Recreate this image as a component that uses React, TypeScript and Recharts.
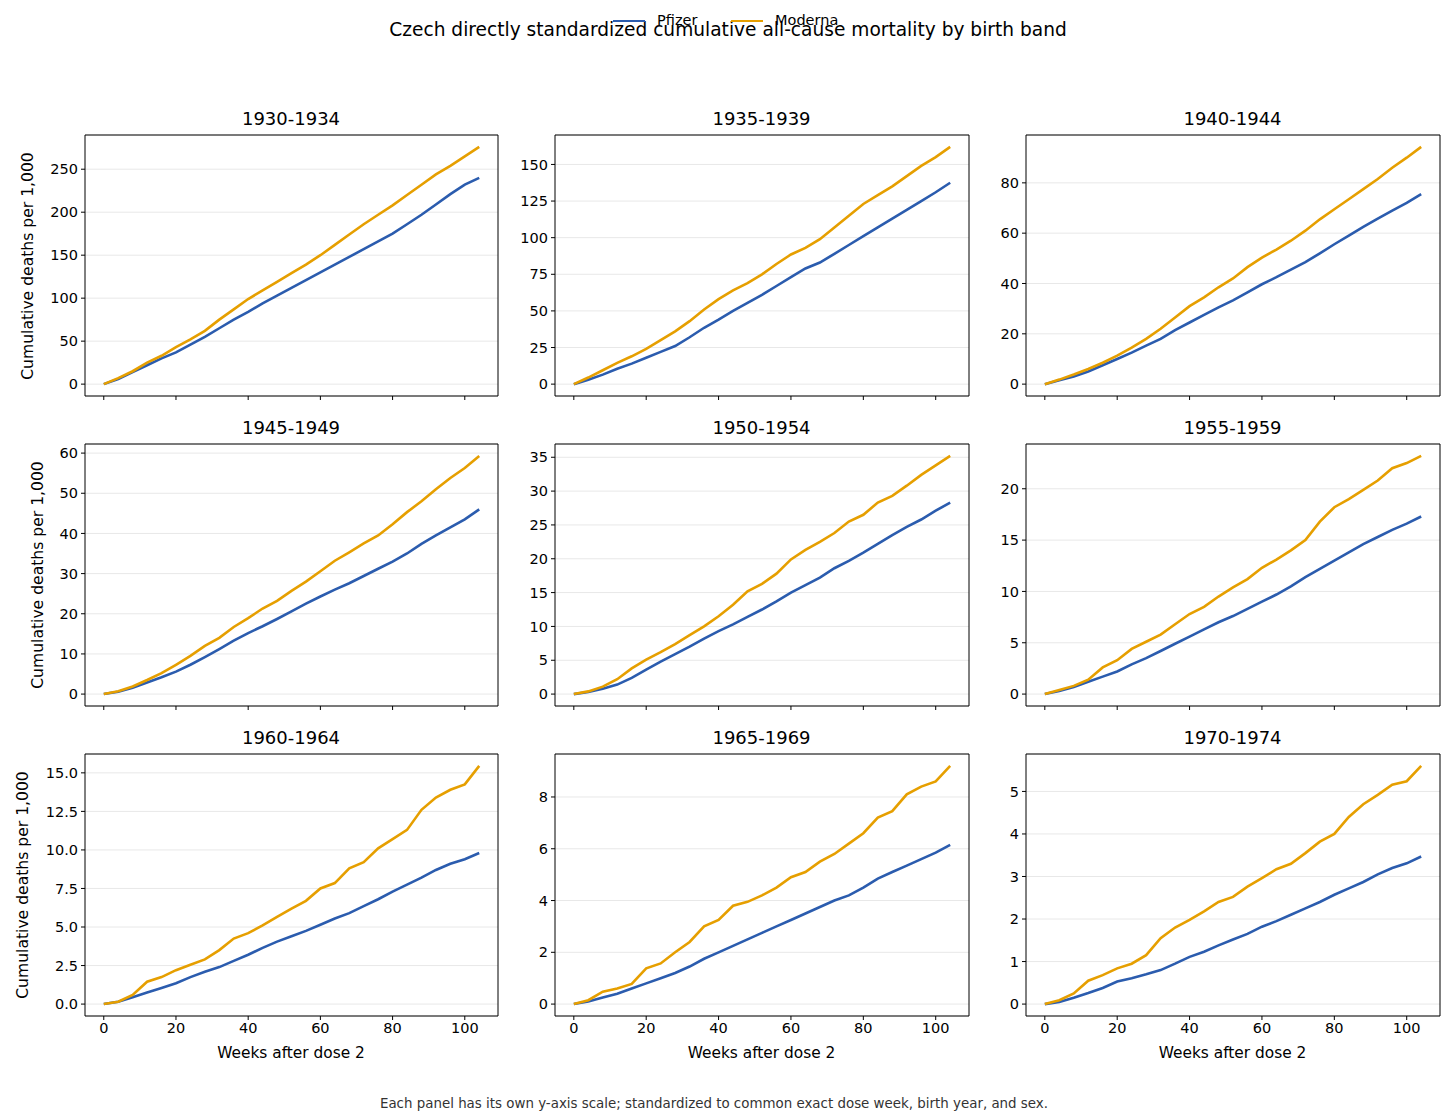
import { LineChart, Line, XAxis, YAxis, CartesianGrid, ReferenceArea } from 'recharts'

// weeks after dose 2 (read every 4 weeks)
const weeks = [0, 4, 8, 12, 16, 20, 24, 28, 32, 36, 40, 44, 48, 52, 56, 60, 64, 68, 72, 76, 80, 84, 88, 92, 96, 100, 104]
const xTicks = [0, 20, 40, 60, 80, 100]

const pfizer1930 = [0, 6, 14, 22, 30, 37, 46, 55, 65, 75, 84, 94, 103, 112, 121, 130, 139, 148, 157, 166, 175, 186, 197, 209, 221, 232, 240]
const moderna1930 = [0, 7, 15, 25, 33, 43, 52, 62, 75, 87, 99, 109, 119, 129, 139, 150, 162, 174, 186, 197, 208, 220, 232, 244, 254, 265, 276]
const pfizer1935 = [0, 3, 6.5, 10.5, 14, 18, 22, 26, 32, 38.5, 44, 50, 55.5, 61, 67, 73, 79, 83, 89, 95, 101, 107, 113, 119, 125, 131, 137.5]
const moderna1935 = [0, 4.5, 9.5, 14.5, 19, 24, 30, 36, 43, 51, 58, 64, 69, 75, 82, 88.5, 93, 99, 107, 115, 123, 129, 135, 142, 149, 155, 162]
const pfizer1940 = [0, 1.5, 3, 5, 7.5, 10, 12.5, 15.3, 18, 21.5, 24.5, 27.5, 30.5, 33.3, 36.5, 39.7, 42.5, 45.5, 48.5, 52, 55.6, 59, 62.5, 65.8, 69, 72, 75.5]
const moderna1940 = [0, 1.8, 3.8, 6, 8.5, 11.3, 14.5, 18, 22, 26.5, 31, 34.5, 38.5, 42, 46.5, 50.3, 53.5, 57, 61, 65.5, 69.5, 73.5, 77.5, 81.5, 86, 90, 94.3]
const pfizer1945 = [0, 0.6, 1.6, 2.9, 4.2, 5.6, 7.3, 9.2, 11.2, 13.3, 15.2, 16.9, 18.7, 20.6, 22.5, 24.3, 26, 27.6, 29.4, 31.2, 33, 35, 37.4, 39.5, 41.5, 43.5, 46]
const moderna1945 = [0, 0.7, 1.9, 3.5, 5.2, 7.3, 9.5, 12, 14, 16.7, 18.9, 21.3, 23.2, 25.7, 28, 30.6, 33.2, 35.3, 37.5, 39.5, 42.3, 45.3, 48, 51, 53.8, 56.3, 59.3]
const pfizer1950 = [0, 0.3, 0.8, 1.4, 2.4, 3.6, 4.8, 5.9, 7, 8.2, 9.3, 10.3, 11.4, 12.5, 13.7, 15, 16.1, 17.2, 18.6, 19.7, 20.9, 22.2, 23.5, 24.7, 25.8, 27.1, 28.3]
const moderna1950 = [0, 0.4, 1.1, 2.2, 3.8, 5.1, 6.2, 7.4, 8.7, 10, 11.5, 13.2, 15.2, 16.3, 17.8, 19.9, 21.3, 22.5, 23.8, 25.5, 26.5, 28.3, 29.3, 30.8, 32.4, 33.8, 35.2]
const pfizer1955 = [0, 0.3, 0.7, 1.2, 1.7, 2.2, 2.9, 3.5, 4.2, 4.9, 5.6, 6.3, 7, 7.6, 8.3, 9, 9.7, 10.5, 11.4, 12.2, 13, 13.8, 14.6, 15.3, 16, 16.6, 17.3]
const moderna1955 = [0, 0.4, 0.8, 1.4, 2.6, 3.3, 4.4, 5.1, 5.8, 6.8, 7.8, 8.5, 9.5, 10.4, 11.2, 12.3, 13.1, 14, 15, 16.8, 18.2, 19, 19.9, 20.8, 22, 22.5, 23.2]
const pfizer1960 = [0, 0.15, 0.45, 0.75, 1.05, 1.35, 1.75, 2.1, 2.4, 2.8, 3.2, 3.65, 4.05, 4.4, 4.75, 5.15, 5.55, 5.9, 6.35, 6.8, 7.3, 7.75, 8.2, 8.7, 9.1, 9.4, 9.8]
const moderna1960 = [0, 0.15, 0.6, 1.45, 1.75, 2.2, 2.55, 2.9, 3.5, 4.25, 4.6, 5.1, 5.65, 6.2, 6.7, 7.5, 7.85, 8.8, 9.2, 10.1, 10.7, 11.3, 12.6, 13.4, 13.9, 14.25, 15.45]
const pfizer1965 = [0, 0.1, 0.25, 0.4, 0.6, 0.8, 1.0, 1.2, 1.45, 1.75, 2.0, 2.25, 2.5, 2.75, 3.0, 3.25, 3.5, 3.75, 4.0, 4.2, 4.5, 4.85, 5.1, 5.35, 5.6, 5.85, 6.15]
const moderna1965 = [0, 0.15, 0.48, 0.6, 0.78, 1.38, 1.57, 2.0, 2.4, 3.0, 3.25, 3.8, 3.95, 4.2, 4.5, 4.9, 5.1, 5.5, 5.8, 6.2, 6.6, 7.2, 7.45, 8.1, 8.4, 8.6, 9.2]
const pfizer1970 = [0, 0.05, 0.15, 0.26, 0.38, 0.53, 0.61, 0.7, 0.8, 0.95, 1.11, 1.23, 1.38, 1.52, 1.65, 1.82, 1.95, 2.1, 2.25, 2.4, 2.57, 2.72, 2.87, 3.05, 3.2, 3.31, 3.47]
const moderna1970 = [0, 0.09, 0.25, 0.55, 0.68, 0.84, 0.95, 1.15, 1.55, 1.8, 1.98, 2.18, 2.4, 2.52, 2.76, 2.96, 3.17, 3.3, 3.55, 3.82, 4.0, 4.4, 4.7, 4.92, 5.16, 5.24, 5.6]

const ticks1930 = [0, 50, 100, 150, 200, 250]
const ticks1935 = [0, 25, 50, 75, 100, 125, 150]
const ticks1940 = [0, 20, 40, 60, 80]
const ticks1945 = [0, 10, 20, 30, 40, 50, 60]
const ticks1950 = [0, 5, 10, 15, 20, 25, 30, 35]
const ticks1955 = [0, 5, 10, 15, 20]
const ticks1960 = [0, 2.5, 5, 7.5, 10, 12.5, 15]
const ticks1965 = [0, 2, 4, 6, 8]
const ticks1970 = [0, 1, 2, 3, 4, 5]

const panels = [
  { band: '1930-1934', pfizer: pfizer1930, moderna: moderna1930, ticks: ticks1930 },
  { band: '1935-1939', pfizer: pfizer1935, moderna: moderna1935, ticks: ticks1935 },
  { band: '1940-1944', pfizer: pfizer1940, moderna: moderna1940, ticks: ticks1940 },
  { band: '1945-1949', pfizer: pfizer1945, moderna: moderna1945, ticks: ticks1945 },
  { band: '1950-1954', pfizer: pfizer1950, moderna: moderna1950, ticks: ticks1950 },
  { band: '1955-1959', pfizer: pfizer1955, moderna: moderna1955, ticks: ticks1955 },
  { band: '1960-1964', pfizer: pfizer1960, moderna: moderna1960, ticks: ticks1960, decimals: 1 },
  { band: '1965-1969', pfizer: pfizer1965, moderna: moderna1965, ticks: ticks1965 },
  { band: '1970-1974', pfizer: pfizer1970, moderna: moderna1970, ticks: ticks1970 },
]

const BLUE = '#2b5cae'
const ORANGE = '#e69f00'
const FONT = '"DejaVu Sans", sans-serif'

// plot box geometry (page pixels)
const colLeft = [84.5, 554.5, 1025.5]
const colWidth = [413, 414, 414]
const rowTop = [135, 443.5, 753.5]
const rowHeight = [261, 262, 262]
const ylabelX = [28, 38, 23]
const X_DOMAIN = [-5.2, 109.2]

function Panel({ p, idx }: { p: any; idx: number }) {
  const row = Math.floor(idx / 3)
  const col = idx % 3
  const data = weeks.map((w, i) => ({ week: w, pfizer: p.pfizer[i], moderna: p.moderna[i] }))
  const hi = Math.max(...p.moderna, ...p.pfizer)
  const yDomain = [-0.05 * hi, 1.05 * hi]
  const left = colLeft[col]
  const bw = colWidth[col]
  const top = rowTop[row]
  const bh = rowHeight[row]
  const pad = 4
  const axisW = 70
  const axisH = 34
  const fmtY = (v: number) => (p.decimals ? v.toFixed(1) : String(v))

  return (
    <>
      <div style={{ position: 'absolute', left, width: bw, top: top - 27, height: 22, lineHeight: '22px', textAlign: 'center', fontSize: 18 }}>
        {p.band}
      </div>
      {col === 0 && (
        <div style={{ position: 'absolute', left: ylabelX[row], top: top + bh / 2, transform: 'translate(-50%, -50%) rotate(-90deg)', whiteSpace: 'nowrap', fontSize: 15.6 }}>
          Cumulative deaths per 1,000
        </div>
      )}
      {row === 2 && (
        <div style={{ position: 'absolute', left, width: bw, top: 1043, height: 20, lineHeight: '20px', textAlign: 'center', fontSize: 15.4 }}>
          Weeks after dose 2
        </div>
      )}
      <div style={{ position: 'absolute', left: left - axisW, top: top - pad }}>
        <LineChart width={bw + axisW + pad} height={bh + axisH + pad} data={data} margin={{ top: pad, right: pad, left: 0, bottom: 0 }}>
          <CartesianGrid vertical={false} stroke="#e8e8e8" strokeWidth={1} />
          <XAxis
            dataKey="week"
            type="number"
            domain={X_DOMAIN}
            ticks={xTicks}
            interval={0}
            allowDataOverflow
            axisLine={false}
            tickSize={4}
            tickMargin={3}
            height={axisH}
            tickLine={{ stroke: '#000' }}
            tick={{ fill: '#000', fontSize: 14.5, fontFamily: FONT }}
            tickFormatter={row === 2 ? (v: number) => String(v) : () => ''}
          />
          <YAxis
            type="number"
            domain={yDomain}
            ticks={p.ticks}
            interval={0}
            allowDataOverflow
            axisLine={false}
            tickSize={4}
            tickMargin={3}
            width={axisW}
            tickLine={{ stroke: '#000' }}
            tick={{ fill: '#000', fontSize: 14.5, fontFamily: FONT }}
            tickFormatter={fmtY}
          />
          <Line type="linear" dataKey="pfizer" stroke={BLUE} strokeWidth={2.6} dot={false} isAnimationActive={false} />
          <Line type="linear" dataKey="moderna" stroke={ORANGE} strokeWidth={2.6} dot={false} isAnimationActive={false} />
          <ReferenceArea x1={X_DOMAIN[0]} x2={X_DOMAIN[1]} y1={yDomain[0]} y2={yDomain[1]} fill="none" fillOpacity={0} stroke="#000" strokeWidth={1} ifOverflow="visible" />
        </LineChart>
      </div>
    </>
  )
}

export default function App() {
  return (
    <div style={{ position: 'relative', width: 1456, height: 1120, margin: -8, background: '#fff', fontFamily: FONT, color: '#000', overflow: 'hidden' }}>
      <div style={{ position: 'absolute', left: 0, width: 1456, top: 19, height: 22, lineHeight: '22px', textAlign: 'center', fontSize: 18.6 }}>
        Czech directly standardized cumulative all-cause mortality by birth band
      </div>
      {/* legend */}
      <div style={{ position: 'absolute', left: 613, top: 19.5, width: 32, height: 2.5, background: BLUE }} />
      <div style={{ position: 'absolute', left: 657, top: 10, height: 20, lineHeight: '20px', fontSize: 14.5 }}>Pfizer</div>
      <div style={{ position: 'absolute', left: 731, top: 19.5, width: 32, height: 2.5, background: ORANGE }} />
      <div style={{ position: 'absolute', left: 775, top: 10, height: 20, lineHeight: '20px', fontSize: 14.5 }}>Moderna</div>
      {panels.map((p, i) => (
        <Panel key={p.band} p={p} idx={i} />
      ))}
      <div style={{ position: 'absolute', left: 0, width: 1428, top: 1095, height: 18, lineHeight: '18px', textAlign: 'center', fontSize: 13.4, color: '#333' }}>
        Each panel has its own y-axis scale; standardized to common exact dose week, birth year, and sex.
      </div>
    </div>
  )
}
